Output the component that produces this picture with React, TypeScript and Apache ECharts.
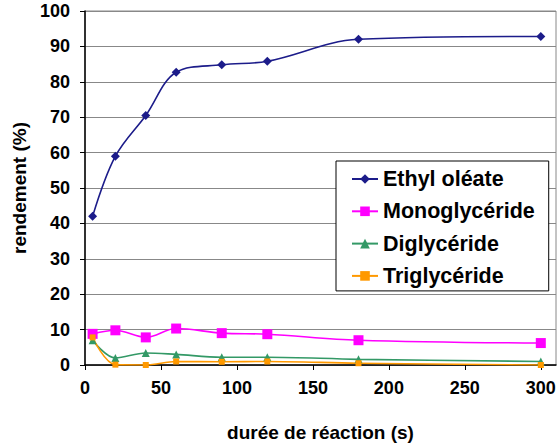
import React, { useEffect, useRef } from "react";
import * as echarts from "echarts";

const times = [5, 20, 40, 60, 90, 120, 180, 300];
const ethylOleate = [42, 59, 70.5, 82.7, 84.8, 85.8, 92, 92.8];
const monoglyceride = [8.8, 9.8, 7.8, 10.3, 9, 8.7, 7, 6.2];
const diglyceride = [7, 2, 3.4, 3, 2.2, 2.2, 1.6, 1];
const triglyceride = [7.8, 0.1, 0, 1, 0.9, 1, 0.5, 0];
const seriesNames = ["Ethyl oléate", "Monoglycéride", "Diglycéride", "Triglycéride"];
const xTicks = [0, 50, 100, 150, 200, 250, 300];

const FONT = "'Liberation Sans', Arial, sans-serif";

export default function App() {
  const ref = useRef<HTMLDivElement>(null);
  useEffect(() => {
    if (!ref.current) return;
    const chart = echarts.init(ref.current, undefined, { renderer: "svg" });
    const mk = (name: string, vals: number[], color: string, symbol: string, size: number) => ({
      name,
      type: "line",
      data: times.map((t, i) => [t, vals[i]]),
      smooth: 0.35,
      symbol,
      symbolSize: size,
      lineStyle: { color, width: 1.6 },
      itemStyle: { color },
    });
    chart.setOption({
      animation: false,
      backgroundColor: "#fff",
      textStyle: { fontFamily: FONT },
      grid: { left: 85, right: 4, top: 11, bottom: 76, show: true, borderColor: "#888", borderWidth: 1 },
      legend: {
        left: 336,
        top: 161,
        orient: "vertical",
        backgroundColor: "#fff",
        borderColor: "#000",
        borderWidth: 1,
        borderRadius: 0,
        padding: [7, 14, 4, 15],
        itemGap: 10.3,
        itemWidth: 26,
        itemHeight: 12,
        textStyle: { fontFamily: FONT, fontSize: 21.5, lineHeight: 22, fontWeight: "bold", color: "#000" },
        data: seriesNames,
      },
      xAxis: {
        type: "value",
        min: 0,
        max: 310,
        interval: 50,
        name: "durée de réaction (s)",
        nameLocation: "middle",
        nameGap: 58,
        nameTextStyle: { fontFamily: FONT, fontSize: 19, fontWeight: "bold", color: "#000" },
        axisLine: { show: true, onZero: false, lineStyle: { color: "#000", width: 1.5 } },
        axisTick: { show: true, inside: false, length: 5, lineStyle: { color: "#000" }, customValues: xTicks },
        axisLabel: {
          fontFamily: FONT,
          fontSize: 18,
          fontWeight: "bold",
          color: "#000",
          margin: 14,
          customValues: xTicks,
        },
        splitLine: { show: false },
      },
      yAxis: {
        type: "value",
        min: 0,
        max: 100,
        interval: 10,
        name: "rendement (%)",
        nameLocation: "middle",
        nameGap: 56,
        nameTextStyle: { fontFamily: FONT, fontSize: 19, fontWeight: "bold", color: "#000" },
        axisLine: { show: true, lineStyle: { color: "#000", width: 1.5 } },
        axisTick: { show: true, inside: false, length: 5, lineStyle: { color: "#000" } },
        axisLabel: { fontFamily: FONT, fontSize: 18, fontWeight: "bold", color: "#000", margin: 15 },
        splitLine: { show: true, lineStyle: { color: "#888", width: 1 } },
      },
      series: [
        mk(seriesNames[0], ethylOleate, "#1c1c8a", "diamond", 9),
        mk(seriesNames[1], monoglyceride, "#ff00ff", "rect", 10),
        mk(seriesNames[2], diglyceride, "#339966", "triangle", 8),
        mk(seriesNames[3], triglyceride, "#ff9900", "rect", 6),
      ],
    });
    return () => chart.dispose();
  }, []);
  return (
    <div
      ref={ref}
      style={{ position: "absolute", left: 0, top: 0, width: 560, height: 447 }}
    />
  );
}
